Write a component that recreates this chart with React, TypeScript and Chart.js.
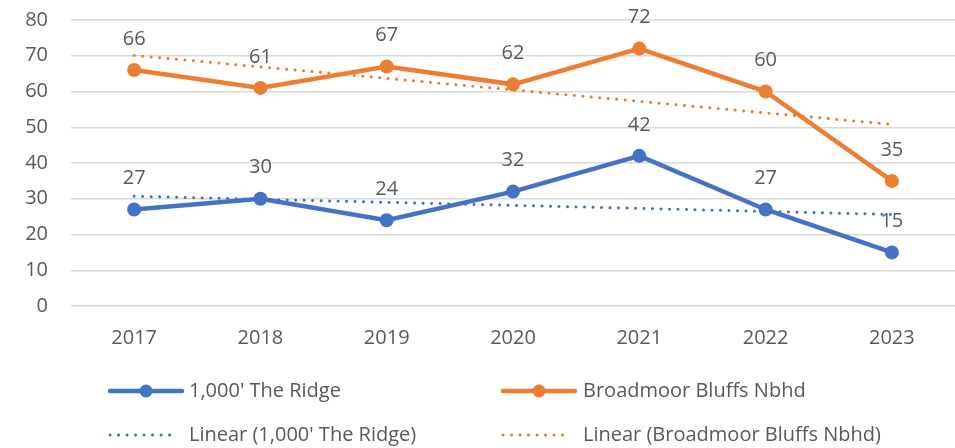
import React, { useEffect, useRef } from "react";
import { Chart, registerables } from "chart.js";

Chart.register(...registerables);

const years = ["2017", "2018", "2019", "2020", "2021", "2022", "2023"];
const ridge = [27, 30, 24, 32, 42, 27, 15];
const broadmoor = [66, 61, 67, 62, 72, 60, 35];
// trend line end values (start at 2017, end at 2023)
const ridgeTrend = [30.7, 25.6];
const broadmoorTrend = [70.1, 50.8];
const yTicks = [0, 10, 20, 30, 40, 50, 60, 70, 80];

const BLUE = "#4472C4";
const ORANGE = "#ED7D31";
const TEXT = "#595959";
const FONT = "'Open Sans', 'Liberation Sans', sans-serif";
const FS = 20;

const labelsPlugin = {
  id: "valueLabels",
  afterDatasetsDraw(chart: any) {
    const ctx = chart.ctx;
    ctx.save();
    ctx.font = `${FS}px ${FONT}`;
    ctx.fillStyle = TEXT;
    ctx.textAlign = "center";
    ctx.textBaseline = "middle";
    [0, 1].forEach((di) => {
      const meta = chart.getDatasetMeta(di);
      const ds = chart.data.datasets[di];
      meta.data.forEach((pt: any, i: number) => {
        ctx.fillText(String(ds.data[i]), pt.x, pt.y - 31);
      });
    });
    ctx.restore();
  },
};

const legendPlugin = {
  id: "customLegend",
  afterDraw(chart: any) {
    const ctx = chart.ctx;
    ctx.save();
    ctx.font = `${FS}px ${FONT}`;
    ctx.textBaseline = "middle";
    ctx.textAlign = "left";
    const items = [
      { x: 110, y: 391, color: BLUE, text: chart.data.datasets[0].label, dotted: false },
      { x: 503, y: 391, color: ORANGE, text: chart.data.datasets[1].label, dotted: false },
      { x: 110, y: 435, color: BLUE, text: chart.data.datasets[2].label, dotted: true },
      { x: 503, y: 435, color: ORANGE, text: chart.data.datasets[3].label, dotted: true },
    ];
    items.forEach((it) => {
      ctx.strokeStyle = it.color;
      ctx.lineCap = "round";
      if (it.dotted) {
        ctx.lineWidth = 3;
        ctx.setLineDash([0.1, 8.4]);
        ctx.beginPath();
        ctx.moveTo(it.x, it.y);
        ctx.lineTo(it.x + 64, it.y);
        ctx.stroke();
        ctx.setLineDash([]);
      } else {
        ctx.lineWidth = 4.5;
        ctx.beginPath();
        ctx.moveTo(it.x, it.y);
        ctx.lineTo(it.x + 72, it.y);
        ctx.stroke();
        ctx.fillStyle = it.color;
        ctx.beginPath();
        ctx.arc(it.x + 36, it.y, 6.5, 0, Math.PI * 2);
        ctx.fill();
      }
      ctx.fillStyle = TEXT;
      ctx.fillText(it.text, it.x + (it.x > 300 ? 80 : 79), it.y);
    });
    ctx.restore();
  },
};

export default function App() {
  const ref = useRef<HTMLCanvasElement>(null);
  useEffect(() => {
    const chart = new Chart(ref.current!, {
      type: "line",
      data: {
        labels: years,
        datasets: [
          {
            label: "1,000' The Ridge",
            data: ridge,
            borderColor: BLUE,
            backgroundColor: BLUE,
            borderWidth: 4.5,
            pointRadius: 7,
            pointHoverRadius: 7,
            pointBackgroundColor: BLUE,
            pointBorderWidth: 0,
            tension: 0,
            order: 1,
          },
          {
            label: "Broadmoor Bluffs Nbhd",
            data: broadmoor,
            borderColor: ORANGE,
            backgroundColor: ORANGE,
            borderWidth: 4.5,
            pointRadius: 7,
            pointHoverRadius: 7,
            pointBackgroundColor: ORANGE,
            pointBorderWidth: 0,
            tension: 0,
            order: 1,
          },
          {
            label: "Linear (1,000' The Ridge)",
            data: [
              { x: years[0], y: ridgeTrend[0] },
              { x: years[years.length - 1], y: ridgeTrend[1] },
            ] as any,
            borderColor: BLUE,
            borderWidth: 3,
            borderDash: [0.1, 8.4],
            borderCapStyle: "round",
            pointRadius: 0,
            order: 0,
          },
          {
            label: "Linear (Broadmoor Bluffs Nbhd)",
            data: [
              { x: years[0], y: broadmoorTrend[0] },
              { x: years[years.length - 1], y: broadmoorTrend[1] },
            ] as any,
            borderColor: ORANGE,
            borderWidth: 3,
            borderDash: [0.1, 8.4],
            borderCapStyle: "round",
            pointRadius: 0,
            order: 0,
          },
        ],
      },
      options: {
        responsive: false,
        animation: false,
        layout: { autoPadding: false, padding: { top: 20, bottom: 92, left: 0, right: 0 } },
        plugins: {
          legend: { display: false },
          tooltip: { enabled: false },
        },
        scales: {
          x: {
            offset: true,
            grid: { display: false, drawTicks: false },
            border: { display: false },
            ticks: {
              color: TEXT,
              font: { family: FONT, size: FS },
              padding: 20,
              maxRotation: 0,
            },
            afterFit: (s: any) => {
              s.height = 50;
              s.paddingLeft = 0;
              s.paddingRight = 0;
            },
          },
          y: {
            min: 0,
            max: 80,
            afterBuildTicks: (s: any) => {
              s.ticks = yTicks.map((v) => ({ value: v }));
            },
            grid: { color: "#d9d9d9", lineWidth: 1.5, drawTicks: false },
            border: { display: false },
            ticks: {
              color: TEXT,
              font: { family: FONT, size: FS },
              padding: 23,
            },
            afterFit: (s: any) => {
              s.width = 71;
              s.paddingTop = 0;
              s.paddingBottom = 0;
            },
          },
        },
      },
      plugins: [labelsPlugin, legendPlugin],
    });
    return () => chart.destroy();
  }, []);
  return (
    <div style={{ position: "absolute", left: 0, top: 0, width: 955, height: 448, background: "#fff" }}>
      <canvas ref={ref} width={955} height={448} />
    </div>
  );
}
